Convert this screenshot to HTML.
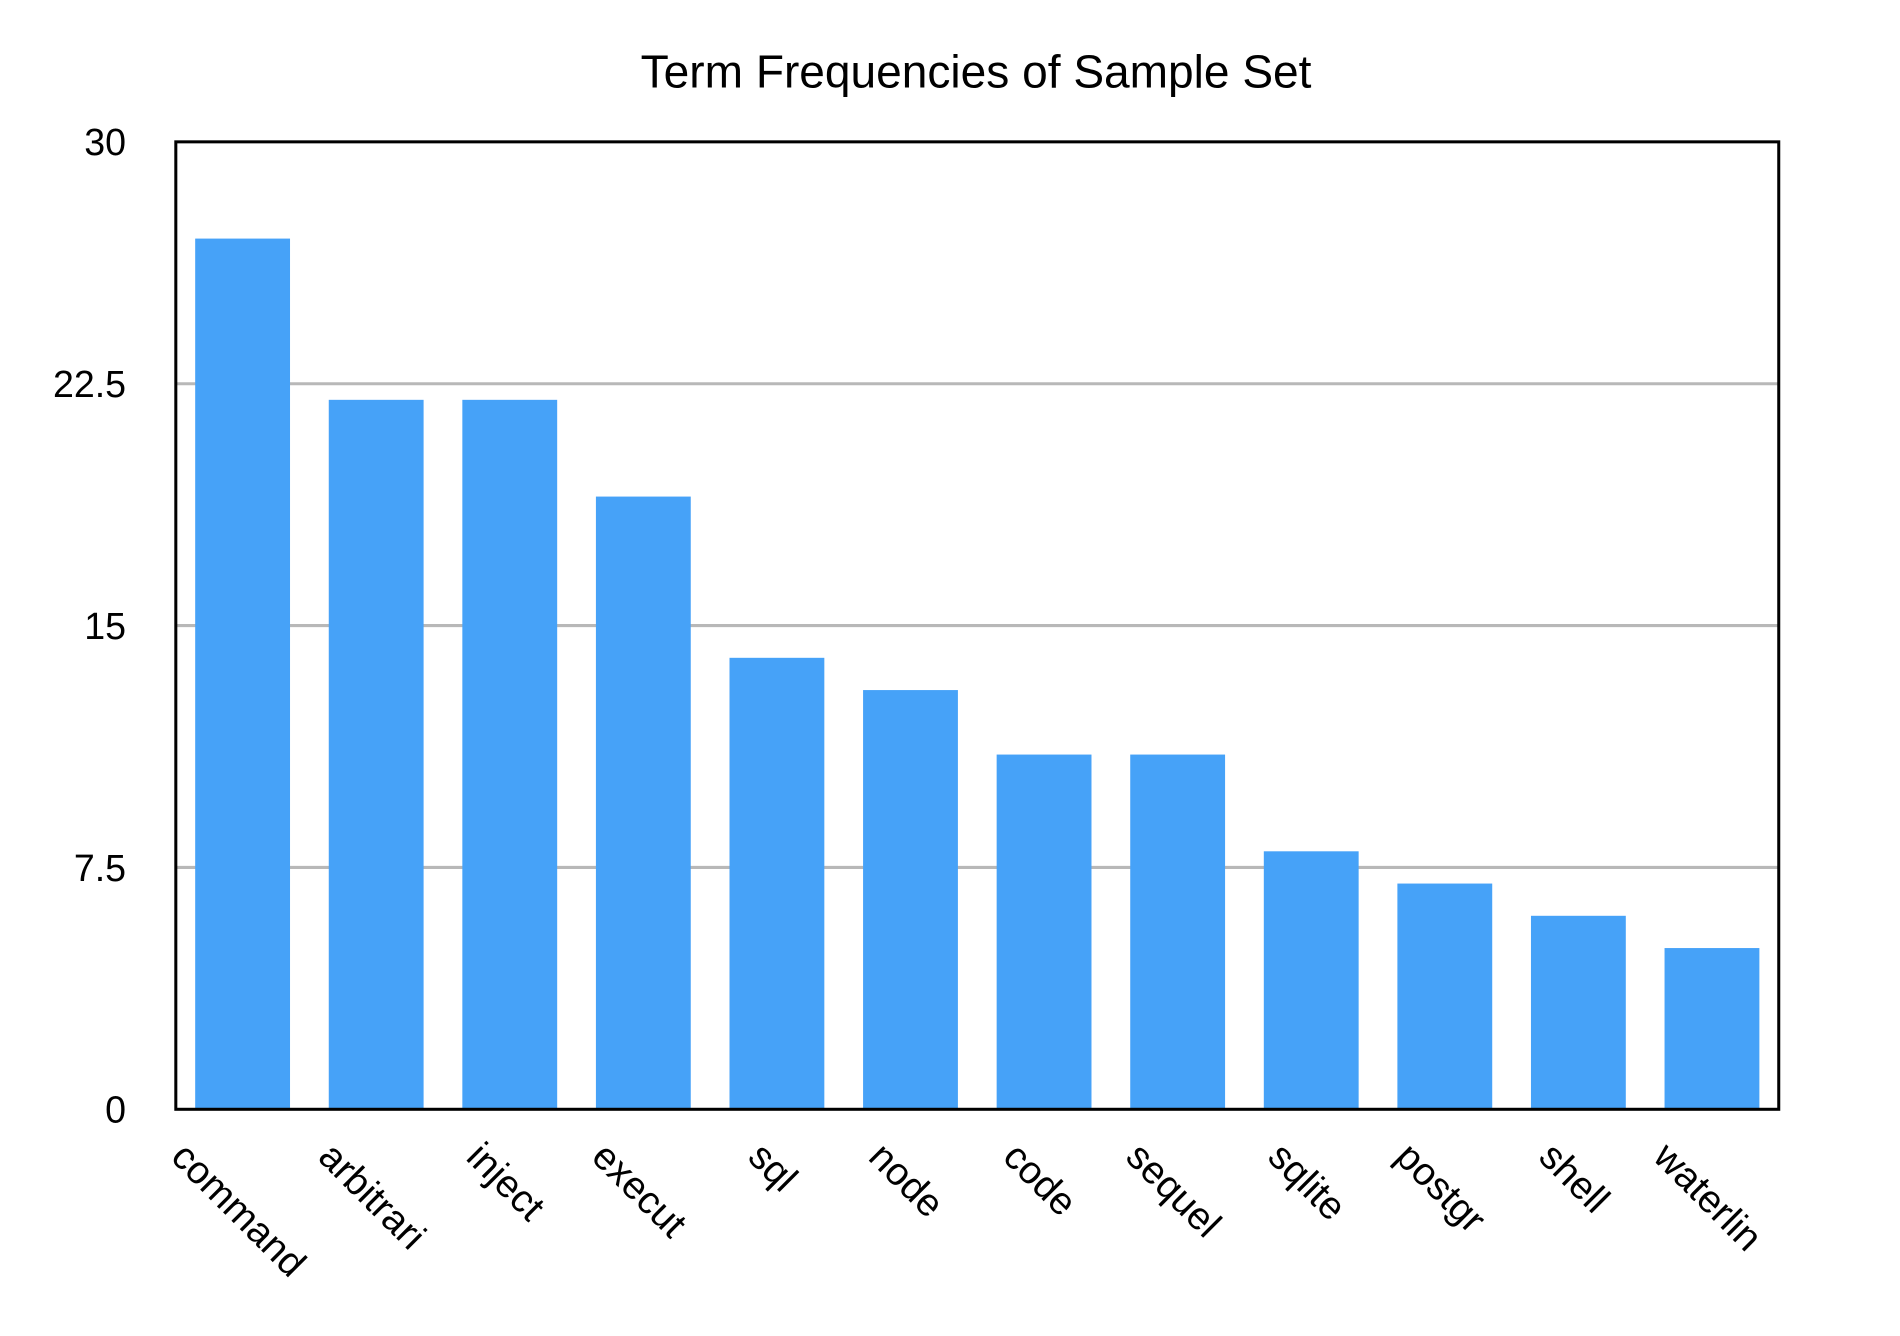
<!DOCTYPE html>
<html><head><meta charset="utf-8"><style>
html,body{margin:0;padding:0;background:#fff;}
svg{display:block;font-family:"Liberation Sans",Arial,sans-serif;}
</style></head><body>
<svg id="chart" width="1900" height="1336" viewBox="0 0 1567 1102" preserveAspectRatio="none" xmlns="http://www.w3.org/2000/svg">
<rect width="1567" height="1102" fill="#fff"/>
<text x="805" y="72" text-anchor="middle" font-size="38" fill="#000">Term Frequencies of Sample Set</text>
<g id="grid"></g><g id="bars"></g><g id="yticks"></g><g id="xlabels"></g>
<rect x="145" y="117" width="1322" height="798" fill="none" stroke="#000" stroke-width="2.5"/>
</svg>
<script>
const categories=["command","arbitrari","inject","execut","sql","node","code","sequel","sqlite","postgr","shell","waterlin"];
const values=[27,22,22,19,14,13,11,11,8,7,6,5];
const yTicks=[0,7.5,15,22.5,30];
const yTickLabels=["0","7.5","15","22.5","30"];
const NS="http://www.w3.org/2000/svg";
const L=145,R=1467,T=117,B=915,YMAX=30;
const band=(R-L)/categories.length;
function y(v){return B-(v/YMAX)*(B-T);}
function xc(i){return L+band*(i+0.5);}
function mk(tag,attrs,parent){const e=document.createElementNS(NS,tag);for(const k in attrs)e.setAttribute(k,attrs[k]);parent.appendChild(e);return e;}
const grid=document.getElementById('grid'),bars=document.getElementById('bars'),yt=document.getElementById('yticks'),xl=document.getElementById('xlabels');
yTicks.forEach((t,i)=>{
  if(t>0&&t<YMAX){const g=mk('line',{x1:L,x2:R,y1:y(t),y2:y(t),stroke:'#b8b8b8','stroke-width':2.5},grid);
  
  }
  const tx=mk('text',{x:104,y:y(t)+11,'text-anchor':'end','font-size':31,fill:'#000'},yt);
  tx.textContent=yTickLabels[i];
  
  
});
const bw=band*0.71;
values.forEach((v,i)=>{
  const r=mk('rect',{x:xc(i)-bw/2,y:y(v),width:bw,height:B-y(v),fill:'#46a2f8'},bars);
  
  
});
categories.forEach((c,i)=>{
  const t=mk('text',{'text-anchor':'middle','font-size':32,fill:'#000'},xl);
  t.textContent=c;
  
  
  const len=t.getComputedTextLength();
  const cy=948+len/2*0.7071;
  t.setAttribute('transform','translate('+(xc(i)-3)+','+cy+') rotate(45)');
  t.setAttribute('dy','11');
});
</script>
</body></html>
